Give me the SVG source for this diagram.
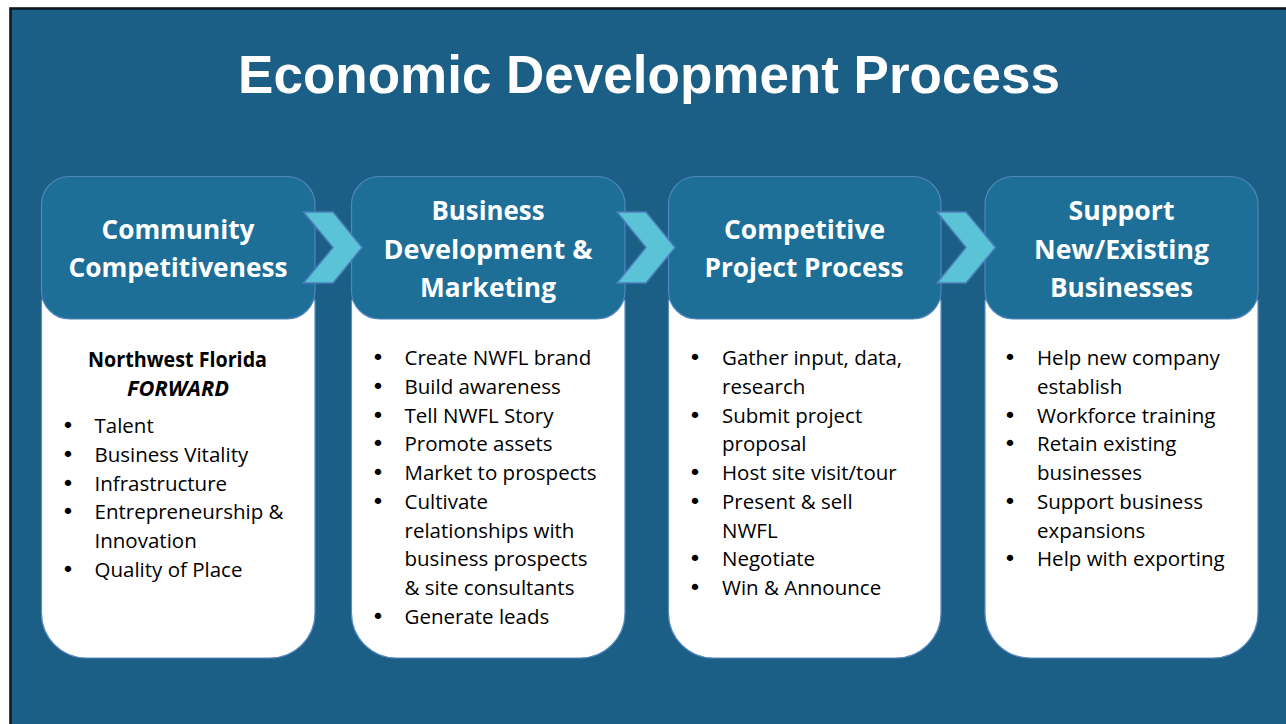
<svg xmlns="http://www.w3.org/2000/svg" width="1286" height="724" viewBox="0 0 1286 724">
<style>
.hdr{fill:#1e6f98;stroke:#4f86bd;stroke-width:1.2}
.body{fill:#ffffff;stroke:#5a8cc4;stroke-width:1.2}
.chev{fill:#5bc3d6;stroke:#4a7fbc;stroke-width:1.5;stroke-linejoin:miter}
.title{font-family:"Liberation Sans",Arial,sans-serif;font-weight:bold;font-size:53px;fill:#ffffff;text-anchor:middle}
.h{font-family:"Open Sans","Noto Sans",sans-serif;font-weight:bold;font-size:27px;fill:#ffffff;text-anchor:middle}
.t{font-family:"Open Sans","Noto Sans",sans-serif;font-size:20.5px;fill:#000000}
.bl{font-family:"DejaVu Sans",sans-serif;font-size:22px;fill:#000000}
.b{font-family:"Open Sans","Noto Sans",sans-serif;font-weight:bold;font-size:20.5px;fill:#000000;text-anchor:middle}
</style>
<rect x="0" y="0" width="1286" height="724" fill="#ffffff"/>
<rect x="10.5" y="8.5" width="1290" height="730" fill="#1b5e86" stroke="#0d1a22" stroke-width="2.6"/>
<text class="title" x="649" y="93">Economic Development Process</text>

<g id="card1">
<path class="body" d="M41.5,300 H315 V613 A45,45 0 0 1 270,658 H86.5 A45,45 0 0 1 41.5,613 Z"/>
<rect class="hdr" x="41.5" y="176.5" width="273.5" height="142.5" rx="28" ry="28"/>
<text class="h" x="178" y="238.5" textLength="153" lengthAdjust="spacingAndGlyphs">Community</text>
<text class="h" x="178" y="277" textLength="219" lengthAdjust="spacingAndGlyphs">Competitiveness</text>
<text class="b" x="177.5" y="367" textLength="179" lengthAdjust="spacingAndGlyphs">Northwest Florida</text>
<text class="b" x="178" y="396" font-style="italic" textLength="102" lengthAdjust="spacingAndGlyphs">FORWARD</text>
<g class="bl">
<text x="61.5" y="433">•</text>
<text x="61.5" y="462">•</text>
<text x="61.5" y="490.5">•</text>
<text x="61.5" y="519">•</text>
<text x="61.5" y="576.5">•</text>
</g>
<g class="t">
<text x="94.5" y="433">Talent</text>
<text x="94.5" y="462">Business Vitality</text>
<text x="94.5" y="490.5">Infrastructure</text>
<text x="94.5" y="519">Entrepreneurship &amp;</text>
<text x="94.5" y="548">Innovation</text>
<text x="94.5" y="576.5">Quality of Place</text>
</g>
</g>

<g id="card2">
<path class="body" d="M351.5,300 H625 V613 A45,45 0 0 1 580,658 H396.5 A45,45 0 0 1 351.5,613 Z"/>
<rect class="hdr" x="351.5" y="176.5" width="273.5" height="142.5" rx="28" ry="28"/>
<text class="h" x="488" y="220" textLength="113" lengthAdjust="spacingAndGlyphs">Business</text>
<text class="h" x="488" y="258.5" textLength="209" lengthAdjust="spacingAndGlyphs">Development &amp;</text>
<text class="h" x="488" y="297" textLength="136" lengthAdjust="spacingAndGlyphs">Marketing</text>
<g class="bl">
<text x="371.5" y="365">•</text>
<text x="371.5" y="394">•</text>
<text x="371.5" y="422.5">•</text>
<text x="371.5" y="451">•</text>
<text x="371.5" y="480">•</text>
<text x="371.5" y="509">•</text>
<text x="371.5" y="624">•</text>
</g>
<g class="t">
<text x="404.5" y="365">Create NWFL brand</text>
<text x="404.5" y="394">Build awareness</text>
<text x="404.5" y="422.5">Tell NWFL Story</text>
<text x="404.5" y="451">Promote assets</text>
<text x="404.5" y="480">Market to prospects</text>
<text x="404.5" y="509">Cultivate</text>
<text x="404.5" y="537.5">relationships with</text>
<text x="404.5" y="566">business prospects</text>
<text x="404.5" y="595">&amp; site consultants</text>
<text x="404.5" y="624">Generate leads</text>
</g>
</g>

<g id="card3">
<path class="body" d="M668.5,300 H941 V613 A45,45 0 0 1 896,658 H713.5 A45,45 0 0 1 668.5,613 Z"/>
<rect class="hdr" x="668.5" y="176.5" width="272.5" height="142.5" rx="28" ry="28"/>
<text class="h" x="804.5" y="238.5" textLength="161" lengthAdjust="spacingAndGlyphs">Competitive</text>
<text class="h" x="804" y="277" textLength="199" lengthAdjust="spacingAndGlyphs">Project Process</text>
<g class="bl">
<text x="688.5" y="365">•</text>
<text x="688.5" y="422.5">•</text>
<text x="688.5" y="480">•</text>
<text x="688.5" y="509">•</text>
<text x="688.5" y="566">•</text>
<text x="688.5" y="595">•</text>
</g>
<g class="t">
<text x="722" y="365">Gather input, data,</text>
<text x="722" y="394">research</text>
<text x="722" y="422.5">Submit project</text>
<text x="722" y="451">proposal</text>
<text x="722" y="480">Host site visit/tour</text>
<text x="722" y="509">Present &amp; sell</text>
<text x="722" y="537.5">NWFL</text>
<text x="722" y="566">Negotiate</text>
<text x="722" y="595">Win &amp; Announce</text>
</g>
</g>

<g id="card4">
<path class="body" d="M985,300 H1258 V613 A45,45 0 0 1 1213,658 H1030 A45,45 0 0 1 985,613 Z"/>
<rect class="hdr" x="985" y="176.5" width="273" height="142.5" rx="28" ry="28"/>
<text class="h" x="1121.5" y="220" textLength="106" lengthAdjust="spacingAndGlyphs">Support</text>
<text class="h" x="1121.5" y="258.5" textLength="175" lengthAdjust="spacingAndGlyphs">New/Existing</text>
<text class="h" x="1121.5" y="297" textLength="143" lengthAdjust="spacingAndGlyphs">Businesses</text>
<g class="bl">
<text x="1003.5" y="365">•</text>
<text x="1003.5" y="422.5">•</text>
<text x="1003.5" y="451">•</text>
<text x="1003.5" y="509">•</text>
<text x="1003.5" y="566">•</text>
</g>
<g class="t">
<text x="1037" y="365">Help new company</text>
<text x="1037" y="394">establish</text>
<text x="1037" y="422.5">Workforce training</text>
<text x="1037" y="451">Retain existing</text>
<text x="1037" y="480">businesses</text>
<text x="1037" y="509">Support business</text>
<text x="1037" y="537.5">expansions</text>
<text x="1037" y="566">Help with exporting</text>
</g>
</g>

<g id="connectors">
<path class="chev" d="M303.5,212 H333 L362,247.5 L333,283 H303.5 L333,247.5 Z"/>
<path class="chev" d="M617,212 H646 L675,247.5 L646,283 H617 L646,247.5 Z"/>
<path class="chev" d="M937,212 H966 L995.5,247.5 L966,283 H937 L966,247.5 Z"/>
</g>
</svg>
